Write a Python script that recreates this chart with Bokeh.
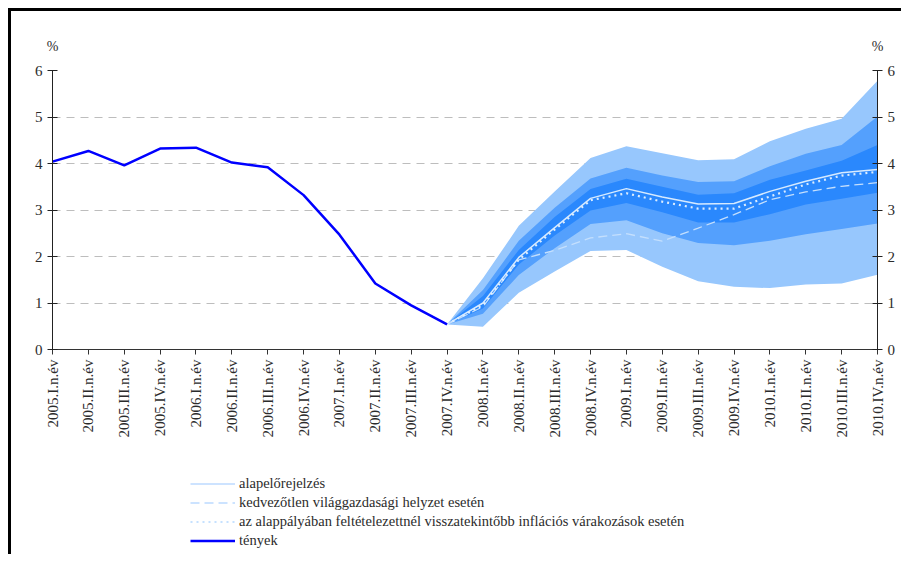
import math
from bokeh.plotting import figure
from bokeh.layouts import column
from bokeh.models import (Range1d, LinearAxis, FixedTicker, Legend, LegendItem)
from bokeh.embed import file_html
from bokeh.resources import INLINE

quarters = ["2005.I.n.év", "2005.II.n.év", "2005.III.n.év", "2005.IV.n.év",
            "2006.I.n.év", "2006.II.n.év", "2006.III.n.év", "2006.IV.n.év",
            "2007.I.n.év", "2007.II.n.év", "2007.III.n.év", "2007.IV.n.év",
            "2008.I.n.év", "2008.II.n.év", "2008.III.n.év", "2008.IV.n.év",
            "2009.I.n.év", "2009.II.n.év", "2009.III.n.év", "2009.IV.n.év",
            "2010.I.n.év", "2010.II.n.év", "2010.III.n.év", "2010.IV.n.év"]

# actual inflation (tények), 2005.I - 2007.IV
actual = [4.04, 4.27, 3.96, 4.32, 4.34, 4.02, 3.92, 3.32, 2.47, 1.42, 0.95, 0.54]

# forecast horizon 2007.IV - 2010.IV (13 points)
baseline = [0.54, 1.00, 1.98, 2.62, 3.25, 3.46, 3.28, 3.13, 3.14, 3.40, 3.62, 3.80, 3.87]
adverse = [0.54, 0.92, 1.93, 2.13, 2.40, 2.49, 2.33, 2.61, 2.90, 3.22, 3.39, 3.51, 3.59]
backward = [0.54, 0.96, 1.93, 2.58, 3.21, 3.36, 3.18, 3.03, 3.03, 3.29, 3.55, 3.74, 3.82]

light_hi = [0.54, 1.53, 2.66, 3.40, 4.12, 4.37, 4.22, 4.07, 4.09, 4.48, 4.75, 4.96, 5.78]
light_lo = [0.54, 0.49, 1.22, 1.68, 2.12, 2.14, 1.78, 1.47, 1.35, 1.32, 1.40, 1.42, 1.61]
mid_hi = [0.54, 1.28, 2.34, 3.05, 3.68, 3.91, 3.74, 3.60, 3.62, 3.94, 4.21, 4.40, 5.01]
mid_lo = [0.54, 0.77, 1.60, 2.18, 2.70, 2.78, 2.50, 2.29, 2.24, 2.34, 2.48, 2.59, 2.71]
dark_hi = [0.54, 1.15, 2.14, 2.85, 3.45, 3.67, 3.50, 3.33, 3.36, 3.65, 3.85, 4.06, 4.40]
dark_lo = [0.54, 0.88, 1.83, 2.45, 2.99, 3.15, 2.95, 2.73, 2.73, 2.91, 3.12, 3.24, 3.37]

y_ticks = [0, 1, 2, 3, 4, 5, 6]
unit_label = "%"
legend_labels = ["alapelőrejelzés",
                 "kedvezőtlen világgazdasági helyzet esetén",
                 "az alappályában feltételezettnél visszatekintőbb inflációs várakozások esetén",
                 "tények"]

FONT = "Liberation Serif"
TXT = "#2b2b2b"
S_BASE = dict(line_color="#d6eaff", line_width=1.5)
S_ADV = dict(line_color="#c4dffd", line_width=1.3, line_dash="9 5")
S_BACK = dict(line_color="#dcedff", line_width=2.2, line_dash="2 4")
S_ACT = dict(line_color="#0000ff", line_width=2.5)
# legend samples are drawn on white, slightly deeper tint as in the original
L_BASE = dict(S_BASE, line_color="#bcdaff")
L_ADV = dict(S_ADV, line_color="#bcdaff")
L_BACK = dict(S_BACK, line_color="#c6e1ff")

x_act = list(range(len(actual)))
x_fc = list(range(len(actual) - 1, len(actual) - 1 + len(baseline)))
x_last = len(quarters) - 1

W = 893
p = figure(width=W, height=443, output_backend="svg", toolbar_location=None,
           x_range=Range1d(0, x_last), y_range=Range1d(0, 6),
           min_border_left=41, min_border_top=59, min_border_right=27, min_border_bottom=105,
           outline_line_color=None)
p.margin = (8, 0, 0, 8)
p.styles = {"border-top": "3px solid black", "border-left": "3px solid black"}
p.xgrid.grid_line_color = None
p.ygrid.ticker = FixedTicker(ticks=y_ticks[1:])
p.ygrid.grid_line_color = "#bdbdbd"
p.ygrid.grid_line_dash = "8 6"
p.ygrid.grid_line_width = 1

# fan bands
p.varea(x=x_fc, y1=light_lo, y2=light_hi, fill_color="#97c7fd")
p.varea(x=x_fc, y1=mid_lo, y2=mid_hi, fill_color="#54a0fd")
p.varea(x=x_fc, y1=dark_lo, y2=dark_hi, fill_color="#2a88fd")

p.line(x_fc, baseline, **S_BASE)
p.line(x_fc, adverse, **S_ADV)
p.line(x_fc, backward, **S_BACK)
p.line(x_act, actual, **S_ACT)

# axes
xax = p.xaxis[0]
xax.ticker = FixedTicker(ticks=list(range(len(quarters))))
xax.major_label_overrides = {i: q for i, q in enumerate(quarters)}
xax.major_label_orientation = math.pi / 2
xax.major_tick_in = 0
xax.major_tick_out = 5
xax.minor_tick_line_color = None
xax.major_label_text_font = FONT
xax.major_label_text_font_size = "15px"
xax.major_label_text_color = TXT
xax.axis_line_color = "#333333"
xax.major_tick_line_color = "#333333"


def style_y(ax):
    ax.ticker = FixedTicker(ticks=y_ticks)
    ax.major_tick_in = 5
    ax.major_tick_out = 5
    ax.minor_tick_line_color = None
    ax.major_label_text_font = FONT
    ax.major_label_text_font_size = "15px"
    ax.major_label_text_color = TXT
    ax.axis_line_color = "#222222"
    ax.major_tick_line_color = "#222222"


style_y(p.yaxis[0])
rax = LinearAxis()
style_y(rax)
p.add_layout(rax, "right")

# "%" unit labels above both value axes
tax = LinearAxis(ticker=FixedTicker(ticks=[0, x_last]),
                 major_label_overrides={0: unit_label, x_last: unit_label})
tax.axis_line_color = None
tax.major_tick_line_color = None
tax.minor_tick_line_color = None
tax.major_label_standoff = 11
tax.major_label_text_font = FONT
tax.major_label_text_font_size = "14px"
tax.major_label_text_color = TXT
p.add_layout(tax, "above")

# legend panel (separate figure below the chart)
pl = figure(width=W, height=103, output_backend="svg", toolbar_location=None,
            x_range=Range1d(0, 1), y_range=Range1d(0, 1),
            x_axis_type=None, y_axis_type=None, min_border=0, outline_line_color=None)
pl.margin = (0, 0, 0, 8)
pl.styles = {"border-left": "3px solid black"}
# same series, outside this panel's visible range: only their legend samples show
l_base = pl.line(x_fc, baseline, **L_BASE)
l_adv = pl.line(x_fc, adverse, **L_ADV)
l_back = pl.line(x_fc, backward, **L_BACK)
l_act = pl.line(x_act, actual, **S_ACT)

legend = Legend(items=[LegendItem(label=legend_labels[0], renderers=[l_base]),
                       LegendItem(label=legend_labels[1], renderers=[l_adv]),
                       LegendItem(label=legend_labels[2], renderers=[l_back]),
                       LegendItem(label=legend_labels[3], renderers=[l_act])],
                location=(138, 4), orientation="vertical",
                glyph_width=45, glyph_height=19, label_height=19, spacing=0,
                padding=0, margin=0, label_standoff=4,
                label_text_font=FONT, label_text_font_size="14.5px", label_text_color=TXT,
                border_line_color=None, background_fill_alpha=0)
pl.add_layout(legend, "center")

layout = column(p, pl, spacing=0)
open("out.html", "w").write(file_html(layout, INLINE))
